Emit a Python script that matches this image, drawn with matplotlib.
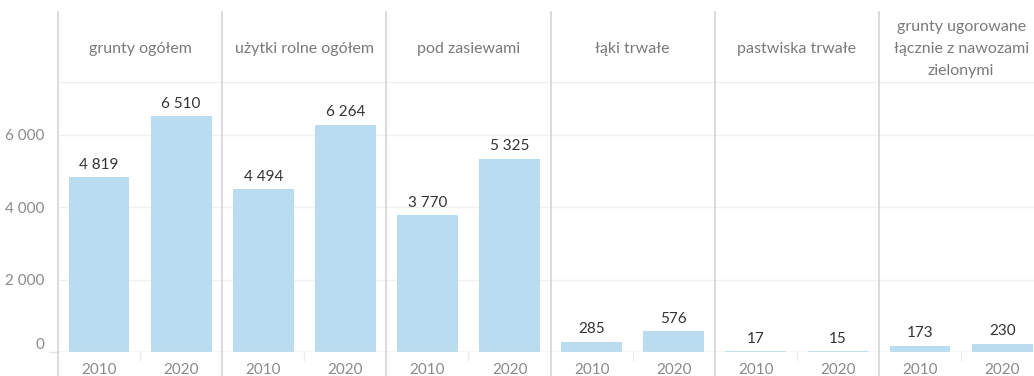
import matplotlib.pyplot as plt
from matplotlib.transforms import blended_transform_factory

plt.rcParams['font.family'] = ['Lato', 'DejaVu Sans']

# --- dane ---
kategorie = ['grunty ogółem', 'użytki rolne ogółem', 'pod zasiewami',
             'łąki trwałe', 'pastwiska trwałe',
             'grunty ugorowane\nłącznie z nawozami\nzielonymi']
lata = ['2010', '2020']
wartosci_2010 = [4819, 4494, 3770, 285, 17, 173]
wartosci_2020 = [6510, 6264, 5325, 576, 15, 230]
y_ticks = [0, 2000, 4000, 6000]

KOLOR_SLUPKA = '#b9dcf0'
SZARY_TEKST = '#8a8a8a'
LINIA = '#d4d4d4'
PANEL = 164.2  # szerokość panelu w px

def fmt(v):
    return f'{v:,}'.replace(',', ' ')

W, H = 1034, 376
n = len(kategorie)
fig = plt.figure(figsize=(W / 100, H / 100), dpi=100)
ax = fig.add_axes([58 / W, (H - 352) / H, n * PANEL / W, (352 - 82) / H])

xs, vals, labels = [], [], []
for i in range(n):
    for j, v in enumerate([wartosci_2010[i], wartosci_2020[i]]):
        xs.append(2 * i + j)
        vals.append(v)
        labels.append(lata[j])

ax.bar(xs, vals, width=0.74, color=KOLOR_SLUPKA, zorder=2)
for x, v in zip(xs, vals):
    ax.annotate(fmt(v), (x, v), xytext=(0, 4), textcoords='offset points',
                ha='center', va='bottom', fontsize=11, color='#333333')

ax.set_xlim(-0.5, 2 * n - 0.5)
ax.set_ylim(0, 7450)
ax.set_xticks(xs)
ax.set_xticklabels(labels, fontsize=11, color=SZARY_TEKST)
ax.tick_params(axis='x', length=0, pad=8)
ax.set_yticks(y_ticks)
ax.set_yticklabels([fmt(t) for t in y_ticks], fontsize=11, color=SZARY_TEKST)
ax.tick_params(axis='y', length=0, pad=10)
ax.get_yticklabels()[0].set_va('bottom')
ax.grid(axis='y', color='#f0f0f0', linewidth=1, zorder=0)
for s in ax.spines.values():
    s.set_visible(False)

# linia zera
ax.axhline(0, color='#e2e2e2', linewidth=1, zorder=3)
ax.plot([-0.5 - 8 / 82, -0.5], [0, 0], color='#e2e2e2', lw=1, clip_on=False)

# linia pod nagłówkami
ax.axhline(7450, color='#eeeeee', linewidth=1, zorder=1)

# separatory paneli i nagłówki
tr = blended_transform_factory(ax.transData, ax.transAxes)
y_dol = -24 / 270
y_gora = (352 - 12) / 270
for i in range(n):
    xb = 2 * i - 0.5
    ax.plot([xb, xb], [y_dol, y_gora], transform=tr, color=LINIA,
            lw=1.2, clip_on=False, zorder=4)
    # mały znacznik między latami
    ax.plot([2 * i + 0.5] * 2, [y_dol * 0.35, 0], transform=tr, color='#ececec',
            lw=1, clip_on=False)
    ax.text(2 * i + 0.5, (352 - 49) / 270, kategorie[i], transform=tr,
            ha='center', va='center', fontsize=11.5, color='#7a7a7a',
            linespacing=1.75)

fig.savefig('out.png', dpi=100)
